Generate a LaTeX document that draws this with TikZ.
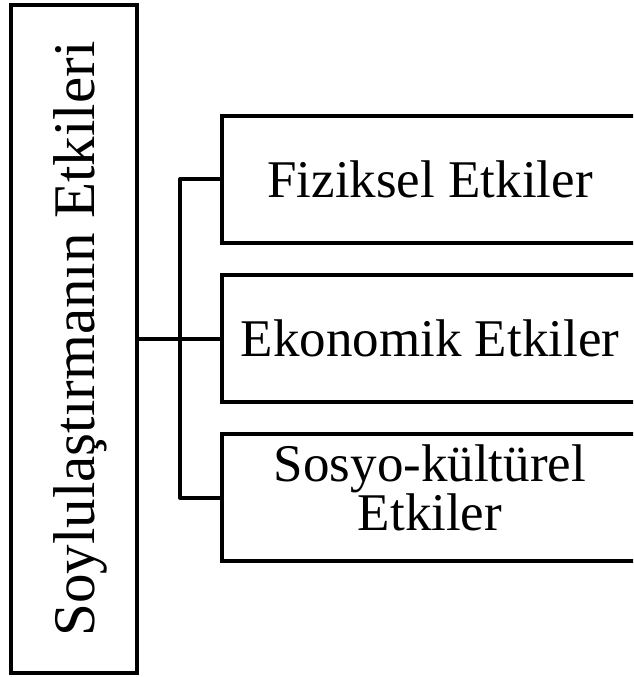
\documentclass[tikz,border=0pt]{standalone}
\usepackage{fontspec}
\setmainfont{Liberation Serif}
\begin{document}
\begin{tikzpicture}[x=1pt,y=-1pt,
  box/.style={draw=black,line width=4pt,rectangle,inner sep=0pt},
  rbox/.style={box,minimum width=416pt,minimum height=127pt,font=\fontsize{53}{48}\selectfont},
  conn/.style={draw=black,line width=4pt,line cap=round,line join=round}]
\useasboundingbox (0,0) rectangle (633,677);
\clip (0,0) rectangle (633,677);
\node[box,rotate=90,minimum width=668pt,minimum height=126pt,text depth=0pt,
  font=\fontsize{59}{64}\selectfont] (main) at (74,339) {Soylulaştırmanın Etkileri};
\node[rbox] (fiz) at (430,179) {Fiziksel Etkiler};
\node[rbox] (eko) at (430,338.5) {Ekonomik Etkiler};
\node[rbox,align=center,text depth=20pt] (sos) at (430,497.5) {Sosyo-kültürel\\Etkiler};
\coordinate (j) at (180,338.5);
\draw[conn] (main.south |- eko.west) -- (eko.west);
\draw[conn] (fiz.west) -- (j |- fiz.west) -- (j |- sos.west) -- (sos.west);
\end{tikzpicture}
\end{document}
